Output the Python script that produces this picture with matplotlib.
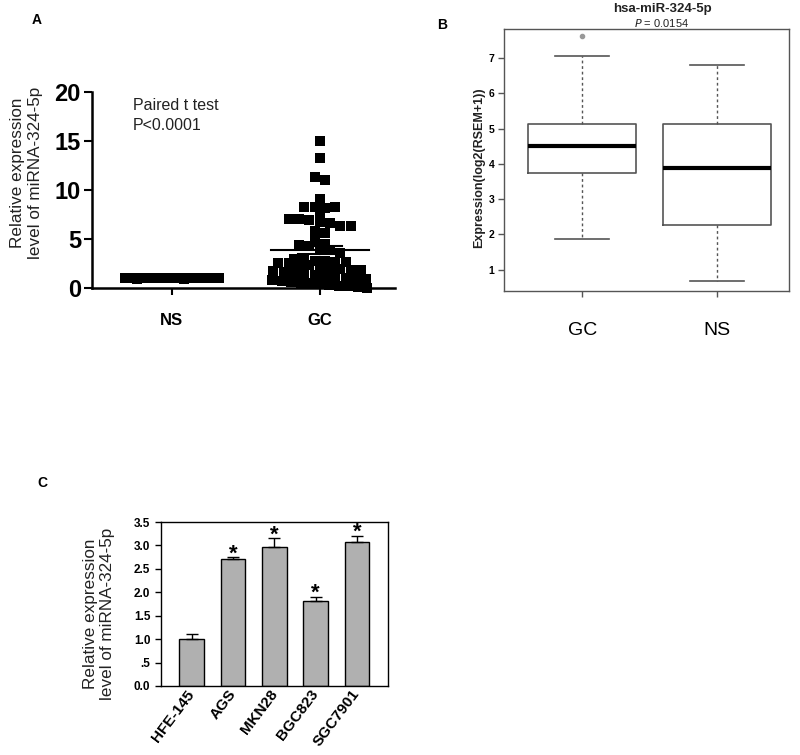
import numpy as np
import matplotlib
matplotlib.use("Agg")
import matplotlib.pyplot as plt
import matplotlib.transforms as mtransforms

plt.rcParams['font.family'] = ['Liberation Sans', 'DejaVu Sans']

# ---- panel A: qPCR of tissue pairs ----
groups_a = ["NS", "GC"]
ns_values = [1.0, 1.02, 0.98, 1.0, 1.01, 0.99, 1.0, 1.03, 0.97, 1.0,
             1.0, 1.02, 0.98, 1.0, 1.01, 0.99, 1.0, 1.02, 0.98, 1.0,
             1.0, 1.01, 0.99, 1.0, 1.02, 0.98, 1.0, 1.01, 0.99, 1.0,
             1.0, 1.02, 0.98, 1.0, 1.01, 0.99, 1.0, 1.03, 0.97, 1.0,
             1.0, 1.02, 0.98, 1.0, 1.01, 0.99, 1.0, 1.02, 0.98, 1.0,
             1.0, 1.01, 0.99, 1.0, 1.02, 0.98, 1.0, 1.01, 0.99, 1.0,
             1.0, 1.0]
gc_values = [15.0, 13.3, 11.3, 11.0, 9.1, 8.3, 8.3, 8.2, 8.3, 7.4,
             7.0, 7.0, 6.9, 6.7, 6.6, 6.3, 6.3, 5.8, 5.6, 4.9,
             4.4, 4.5, 4.3, 4.0, 3.9, 3.6,
             3.0, 2.9, 2.8, 2.8, 2.7, 2.7, 2.6, 2.6, 2.5, 2.3,
             2.2, 2.0, 1.9, 1.8, 1.8, 1.7, 1.6, 1.5, 1.4, 1.3,
             1.2, 1.1, 1.0, 1.0, 0.9, 0.8, 0.7, 0.6, 0.5, 0.5,
             0.4, 0.3, 0.2, 0.2, 0.1, 0.05]

# ---- panel B: TCGA boxplot summary ----
groups_b = ["GC", "NS"]
box_stats = {
    "GC": dict(whislo=1.86, q1=3.74, med=4.50, q3=5.14, whishi=7.06, fliers=[7.61]),
    "NS": dict(whislo=0.67, q1=2.27, med=3.87, q3=5.13, whishi=6.81, fliers=[]),
}

# ---- panel C: cell lines ----
cell_lines = ["HFE-145", "AGS", "MKN28", "BGC823", "SGC7901"]
cell_means = [1.01, 2.71, 2.97, 1.81, 3.08]
cell_err = [0.10, 0.04, 0.18, 0.10, 0.13]
cell_sig = [False, True, True, True, True]


def row_offsets(values, row_h=0.9, step=0.07, max_half=0.32):
    """column-scatter layout: points sharing a row are spread sideways"""
    vals = np.asarray(values)
    rows = np.floor(vals / row_h + 1e-9).astype(int)
    offs = np.zeros(len(vals))
    for r in np.unique(rows):
        idx = np.where(rows == r)[0]
        n = len(idx)
        s = step if n < 2 else min(step, 2 * max_half / (n - 1))
        offs[idx] = (np.arange(n) - (n - 1) / 2) * s
    return offs


def flat_offsets(n, half=0.32):
    return np.linspace(-half, half, n)


fig = plt.figure(figsize=(8, 7.55), dpi=100)

# ================= A =================
axA = fig.add_axes([0.115, 0.6185, 0.379, 0.2596])
for pos, vals, offs in [(1, ns_values, flat_offsets(len(ns_values))),
                        (2, gc_values, row_offsets(gc_values))]:
    axA.scatter(pos + offs, vals, marker='s', s=46, color='black',
                linewidths=0, clip_on=False, zorder=3)
    v = np.asarray(vals)
    m = v.mean()
    sem = v.std(ddof=1) / np.sqrt(len(v))
    axA.plot([pos - 0.33, pos + 0.33], [m, m], color='black', lw=1.5, zorder=4)
    axA.plot([pos - 0.15, pos + 0.15], [m + sem, m + sem], color='black', lw=1.5, zorder=4)
    axA.plot([pos - 0.15, pos + 0.15], [m - sem, m - sem], color='black', lw=1.5, zorder=4)
    axA.plot([pos, pos], [m - sem, m + sem], color='black', lw=1.5, zorder=4)

axA.set_xlim(0.46, 2.51)
axA.set_ylim(0, 20)
axA.set_yticks([0, 5, 10, 15, 20])
axA.set_xticks([1, 2])
axA.set_xticklabels(groups_a, fontsize=12, fontweight='bold')
axA.tick_params(axis='y', labelsize=17, width=1.5, length=6, pad=2)
for lab in axA.get_yticklabels():
    lab.set_fontweight('bold')
axA.tick_params(axis='x', width=1.5, length=5, pad=13)
for s in ['top', 'right']:
    axA.spines[s].set_visible(False)
for s in ['left', 'bottom']:
    axA.spines[s].set_linewidth(1.8)
axA.set_ylabel("Relative expression\nlevel of miRNA-324-5p", fontsize=12.3, color='#222222')
axA.yaxis.set_label_coords(-0.162, 0.59)
axA.text(0.135, 0.97, "Paired t test\nP<0.0001", transform=axA.transAxes,
         fontsize=11.5, va='top', ha='left', linespacing=1.45, color='#222222')

# ================= B =================
axB = fig.add_axes([0.63, 0.6146, 0.356, 0.347])
stats = []
for g in groups_b:
    d = dict(box_stats[g])
    d['label'] = g
    stats.append(d)
grey = '#555555'
axB.bxp(stats, positions=[1, 2], widths=0.8, showfliers=True,
        boxprops=dict(color=grey, lw=1.2),
        medianprops=dict(color='black', lw=3.0),
        whiskerprops=dict(color=grey, lw=1.0, linestyle=(0, (2, 2))),
        capprops=dict(color=grey, lw=1.2),
        flierprops=dict(marker='o', markersize=3, markerfacecolor='#999999',
                        markeredgecolor='#999999'))
axB.set_xlim(0.42, 2.53)
axB.set_ylim(0.4, 7.82)
axB.set_yticks([1, 2, 3, 4, 5, 6, 7])
axB.tick_params(axis='y', labelsize=7.5, width=1, length=4, color=grey, pad=3)
for lab in axB.get_yticklabels():
    lab.set_fontweight('bold')
axB.tick_params(axis='x', labelsize=14, width=1, length=4, color=grey, pad=18)
for s in axB.spines.values():
    s.set_color(grey)
    s.set_linewidth(1.0)
axB.set_ylabel("Expression(log2(RSEM+1))", fontsize=9, fontweight='bold', color='#222222')
axB.yaxis.set_label_coords(-0.065, 0.47)
fig.text(0.8275, 0.9885, "hsa-miR-324-5p", ha='center', va='center',
         fontsize=9.5, fontweight='bold', color='#222222')
fig.text(0.8275, 0.9695, "$\\it{P}$ = 0.0154", ha='center', va='center',
         fontsize=8, color='#222222')

# ================= C =================
axC = fig.add_axes([0.201, 0.0914, 0.284, 0.2172])
xc = np.arange(len(cell_lines))
axC.bar(xc, cell_means, width=0.6, color='#b0b0b0', edgecolor='black', lw=1.0, zorder=2)
axC.errorbar(xc, cell_means, yerr=[np.zeros(len(cell_err)), cell_err], fmt='none',
             ecolor='black', elinewidth=1.0, capsize=4, capthick=1.0, zorder=3)
for x, m, e, sig in zip(xc, cell_means, cell_err, cell_sig):
    if sig:
        axC.text(x, m + e - 0.05, "*", ha='center', va='baseline', fontsize=16,
                 fontweight='bold')
axC.set_xlim(-0.75, 4.75)
axC.set_ylim(0, 3.5)
yt = [0.0, 0.5, 1.0, 1.5, 2.0, 2.5, 3.0, 3.5]
axC.set_yticks(yt)
axC.set_yticklabels(["0.0", ".5", "1.0", "1.5", "2.0", "2.5", "3.0", "3.5"],
                    fontsize=8.5, fontweight='bold')
axC.set_xticks(xc)
axC.set_xticklabels(cell_lines, rotation=53, ha='right', va='center',
                    rotation_mode='anchor', fontsize=11, fontweight='bold')
shift = mtransforms.ScaledTranslation(10 / 72, -4 / 72, fig.dpi_scale_trans)
for lab in axC.get_xticklabels():
    lab.set_transform(lab.get_transform() + shift)
axC.tick_params(axis='x', length=0, pad=4)
axC.tick_params(axis='y', length=4, width=1)
for s in axC.spines.values():
    s.set_linewidth(1.0)
axC.set_ylabel("Relative expression\nlevel of miRNA-324-5p", fontsize=12.3, color='#222222')
axC.yaxis.set_label_coords(-0.20, 0.44)

# panel letters
fig.text(0.046, 0.974, "A", fontsize=10, fontweight='bold', va='center', ha='center')
fig.text(0.5525, 0.967, "B", fontsize=10, fontweight='bold', va='center', ha='center')
fig.text(0.0525, 0.36, "C", fontsize=10, fontweight='bold', va='center', ha='center')

fig.savefig("out.png", dpi=100, facecolor='white')
